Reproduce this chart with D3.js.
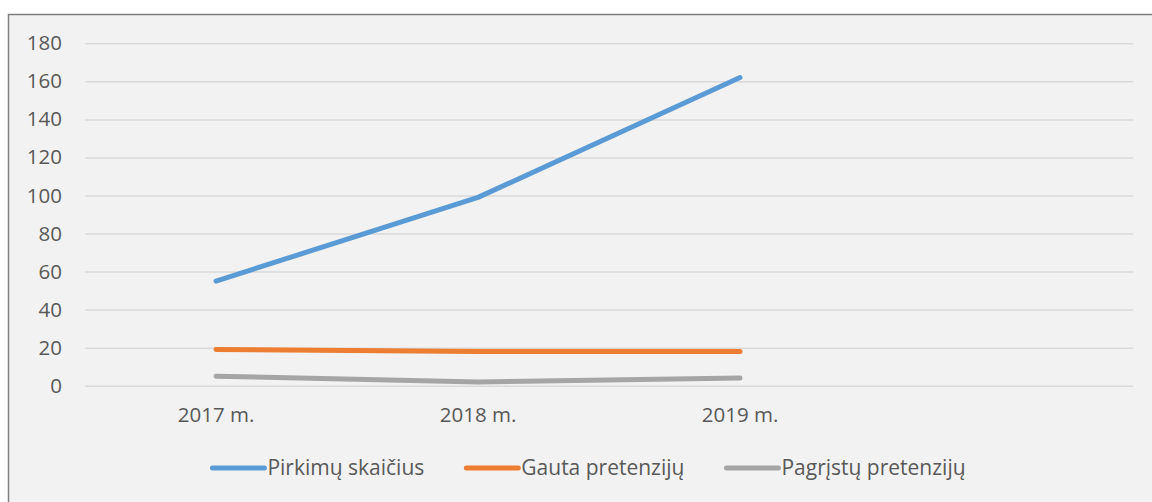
<!DOCTYPE html>
<html lang="lt">
<head>
  <meta charset="UTF-8">
  <title>Pirkimai ir pretenzijos</title>
  <script src="https://d3js.org/d3.v7.min.js"></script>
  <style>
    * { margin: 0; padding: 0; box-sizing: border-box; }
    body { background: #fff; font-family: "Open Sans", sans-serif; }
  </style>
</head>
<body>
  <div id="chart"></div>
  <script>
    const years = ["2017 m.", "2018 m.", "2019 m.", ""];
    const seriesNames = ["Pirkimų skaičius", "Gauta pretenzijų", "Pagrįstų pretenzijų"];
    const pirkimu = [55, 99, 162];
    const gauta = [19, 18, 18];
    const pagristu = [5, 2, 4];
    const yTicks = [0, 20, 40, 60, 80, 100, 120, 140, 160, 180];
    const colors = ["#5b9bd5", "#ed7d31", "#a5a5a5"];

    const W = 1152, H = 502;
    const fontSize = "20.5px";
    const margin = {top: 43.3, right: 19, bottom: 116.3, left: 85};
    const width = W - margin.left - margin.right,
          height = H - margin.top - margin.bottom;

    const root = d3.select("#chart").append("svg")
      .attr("width", W).attr("height", H);

    // chart area
    root.append("rect")
      .attr("x", 8.5).attr("y", 14.5)
      .attr("width", W).attr("height", H)
      .attr("fill", "#f2f2f2")
      .attr("stroke", "#7f7f7f")
      .attr("stroke-width", 1.5);

    const svg = root.append("g")
      .attr("transform", `translate(${margin.left},${margin.top})`);

    const x = d3.scaleBand().domain(years).range([0, width]);
    const y = d3.scaleLinear().domain([0, 180]).range([height, 0]);

    // grid
    svg.append("g")
      .call(d3.axisLeft(y).tickValues(yTicks).tickSize(-width).tickFormat(""))
      .call(g => g.select(".domain").remove())
      .selectAll("line")
      .attr("stroke", "#d9d9d9")
      .attr("stroke-width", 1.5);

    // y labels
    svg.append("g")
      .call(d3.axisLeft(y).tickValues(yTicks).tickSize(0).tickPadding(23))
      .call(g => g.select(".domain").remove())
      .selectAll("text")
      .style("font-family", "'Open Sans', sans-serif")
      .style("font-size", fontSize)
      .attr("fill", "#595959");

    // x labels
    svg.append("g")
      .attr("transform", `translate(0,${height})`)
      .call(d3.axisBottom(x).tickSize(0).tickPadding(22))
      .call(g => g.select(".domain").remove())
      .selectAll("text")
      .style("font-family", "'Open Sans', sans-serif")
      .style("font-size", fontSize)
      .attr("fill", "#595959");

    const series = [pirkimu, gauta, pagristu];
    const line = d3.line()
      .x((d, i) => x(years[i]) + x.bandwidth() / 2)
      .y(d => y(d));

    // draw from back to front like the original
    [2, 1, 0].forEach(k => {
      svg.append("path")
        .datum(series[k])
        .attr("fill", "none")
        .attr("stroke", colors[k])
        .attr("stroke-width", 5)
        .attr("stroke-linecap", "round")
        .attr("stroke-linejoin", "round")
        .attr("d", line);
    });

    // legend
    const legend = root.append("g").attr("transform", "translate(0,468)");
    const items = legend.selectAll("g").data(seriesNames).enter().append("g");
    items.append("line")
      .attr("x1", 0).attr("x2", 52)
      .attr("stroke", (d, i) => colors[i])
      .attr("stroke-width", 5)
      .attr("stroke-linecap", "round");
    items.append("text")
      .attr("x", 55)
      .attr("dy", "0.35em")
      .style("font-family", "'Open Sans', sans-serif")
      .style("font-size", "21px")
      .attr("fill", "#595959")
      .text(d => d);

    const gap = 42;
    const widths = [];
    items.each(function() { widths.push(this.getBBox().width); });
    const total = d3.sum(widths) + gap * (widths.length - 1);
    let cx = 589 - total / 2;
    items.attr("transform", (d, i) => {
      const t = `translate(${cx},0)`;
      cx += widths[i] + gap;
      return t;
    });
  </script>
</body>
</html>
